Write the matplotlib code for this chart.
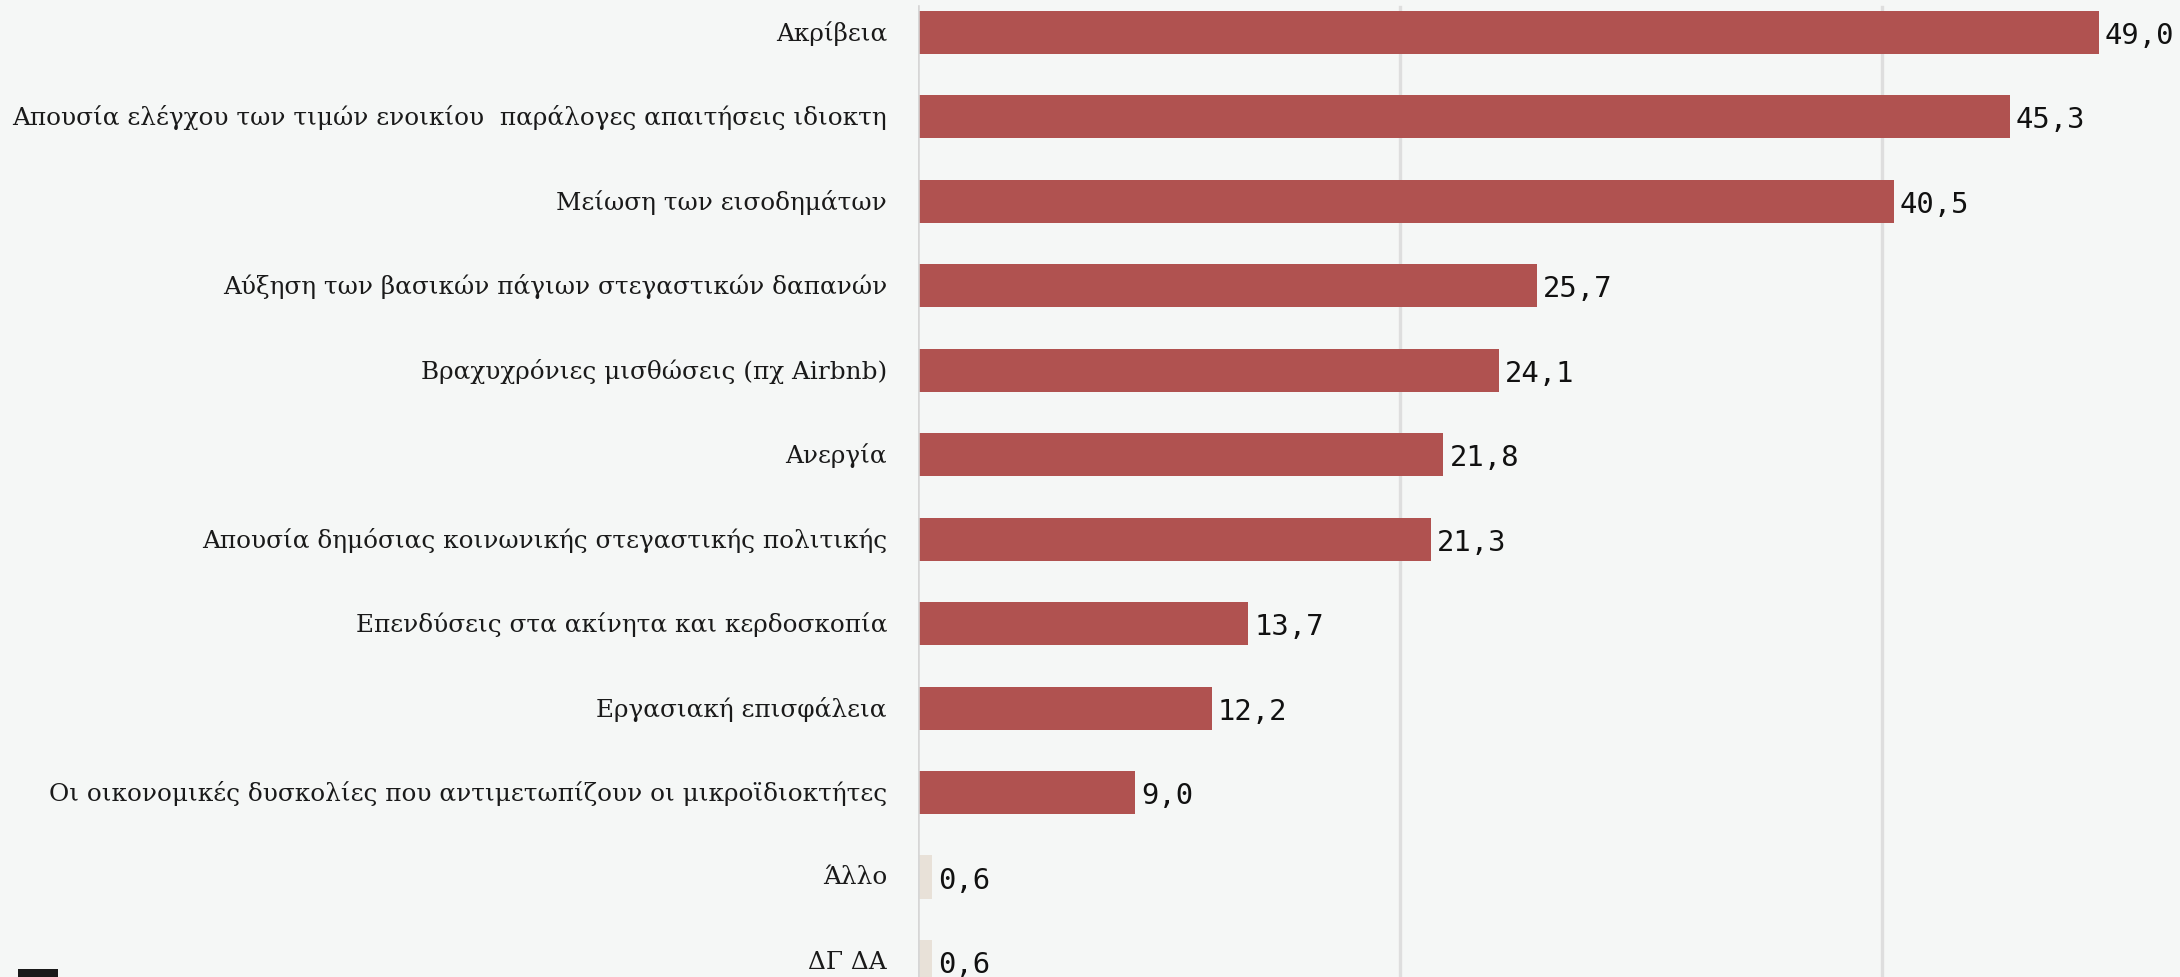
import matplotlib
matplotlib.use("Agg")
import matplotlib.pyplot as plt
from matplotlib.patches import Rectangle

categories = [
    "Ακρίβεια",
    "Απουσία ελέγχου των τιμών ενοικίου  παράλογες απαιτήσεις ιδιοκτη",
    "Μείωση των εισοδημάτων",
    "Αύξηση των βασικών πάγιων στεγαστικών δαπανών",
    "Βραχυχρόνιες μισθώσεις (πχ Airbnb)",
    "Ανεργία",
    "Απουσία δημόσιας κοινωνικής στεγαστικής πολιτικής",
    "Επενδύσεις στα ακίνητα και κερδοσκοπία",
    "Εργασιακή επισφάλεια",
    "Οι οικονομικές δυσκολίες που αντιμετωπίζουν οι μικροϊδιοκτήτες",
    "Άλλο",
    "ΔΓ ΔΑ",
]
values = [49.0, 45.3, 40.5, 25.7, 24.1, 21.8, 21.3, 13.7, 12.2, 9.0, 0.6, 0.6]
highlight = [True] * 10 + [False, False]
gridlines = [20, 40]

BG = "#f5f7f6"
RED = "#b05250"
LIGHT = "#e8e1d8"

W, H = 2180, 978
fig = plt.figure(figsize=(W / 100, H / 100), dpi=100)
fig.patch.set_facecolor(BG)

x0_px = 918
px_per_unit = 24.1
ax = fig.add_axes([x0_px / W, 0, (W - x0_px) / W, 1])
ax.set_facecolor(BG)
ax.set_xlim(0, (W - x0_px) / px_per_unit)
row = 84.45
first_center = 33.5
ax.set_ylim((H - first_center) / row, -first_center / row)

for s in ax.spines.values():
    s.set_visible(False)
ax.set_xticks([])
ax.set_yticks([])

top_frac = 1 - 8 / H
for g in gridlines:
    ax.axvline(g, ymin=0, ymax=top_frac, color="#dedede", lw=2.4, zorder=0)
ax.axvline(0, ymin=0, ymax=top_frac, color="#d6d6d6", lw=2.6, zorder=3)

ypos = list(range(len(categories)))
colors = [RED if h else LIGHT for h in highlight]
ax.barh(ypos, values, height=0.51, color=colors, zorder=2)

for y, v, c in zip(ypos, values, categories):
    ax.text(v + 6 / px_per_unit, y + 0.03, f"{v:.1f}".replace(".", ","),
            va="center", ha="left", fontsize=20.8, family="DejaVu Sans Mono",
            color="#111111", zorder=4)
    ax.text(-31 / px_per_unit, y, c, va="center", ha="right", fontsize=17.8,
            family="DejaVu Serif", color="#1a1a1a", clip_on=False)

fig.patches.append(Rectangle((18 / W, 0), 40 / W, 8 / H, transform=fig.transFigure,
                             facecolor="#1a1a1a", edgecolor="none"))

fig.savefig("out.png", dpi=100, facecolor=BG)
